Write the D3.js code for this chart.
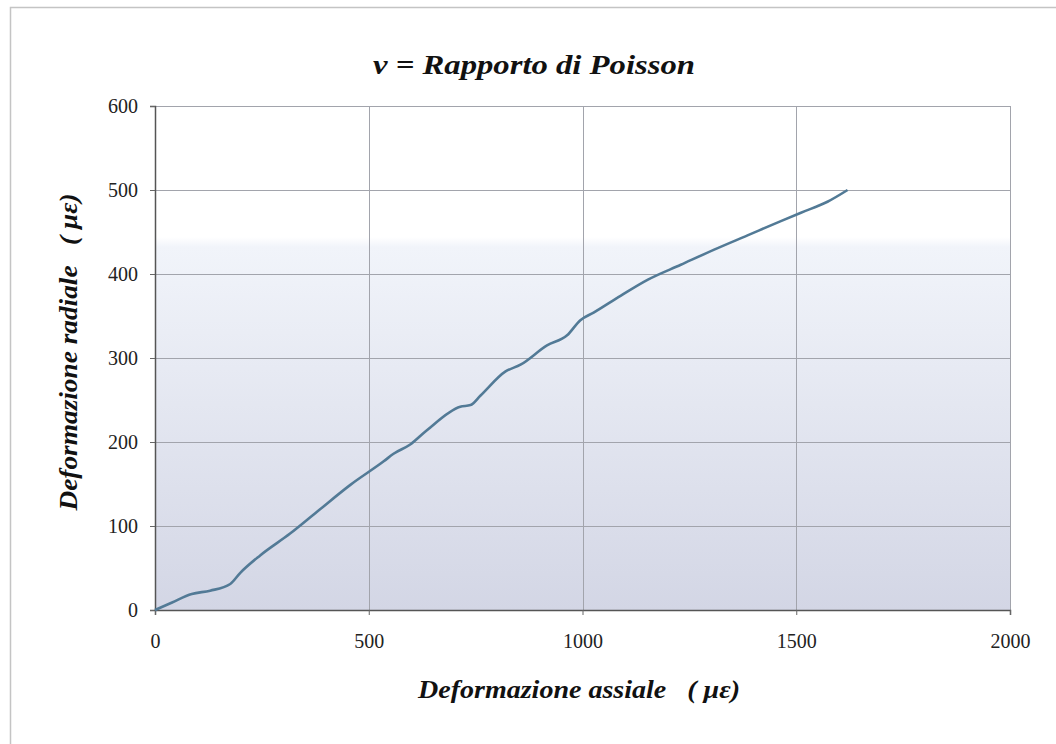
<!DOCTYPE html>
<html><head><meta charset="utf-8">
<script src="https://cdn.jsdelivr.net/npm/d3@7/dist/d3.min.js"></script>
<style>
html,body{margin:0;padding:0;background:#fff;}
svg{display:block;}
text{white-space:pre;}
</style></head>
<body>
<script>
const strainAxial = [0, 40, 86, 129, 176, 199, 246, 316, 379, 457, 535, 558, 597, 636, 714, 738, 761, 820, 855, 917, 964, 995, 1026, 1089, 1152, 1230, 1308, 1386, 1464, 1511, 1573, 1620];
const strainRadial = [0, 9, 19, 23, 31, 44, 65, 91, 117, 149, 177, 186, 197, 214, 242, 244, 255, 284, 292, 315, 327, 345, 354, 374, 393, 411, 429, 446, 463, 473, 486, 500];
const xTicks = [0, 500, 1000, 1500, 2000];
const yTicks = [0, 100, 200, 300, 400, 500, 600];
const titleText = "ν = Rapporto di Poisson";
const xTitle = "Deformazione assiale   ( με)";
const yTitle = "Deformazione radiale   ( με)";

const W = 1056, H = 744;
const L = 155, R = 1010, T = 106, B = 610;
const svg = d3.select("body").append("svg").attr("width", W).attr("height", H);

// outer chart frame
svg.append("rect").attr("x", 10.5).attr("y", 7.5).attr("width", 1100).attr("height", 800)
  .attr("fill", "none").attr("stroke", "#c4c4c4").attr("stroke-width", 1.5);

const x = d3.scaleLinear().domain([0, 2000]).range([L, R]);
const y = d3.scaleLinear().domain([0, 600]).range([B, T]);

const defs = svg.append("defs");
const grad = defs.append("linearGradient").attr("id", "bg").attr("x1", 0).attr("y1", 0).attr("x2", 0).attr("y2", 1);
grad.append("stop").attr("offset", "0").attr("stop-color", "#ffffff");
grad.append("stop").attr("offset", "0.26").attr("stop-color", "#ffffff");
grad.append("stop").attr("offset", "0.28").attr("stop-color", "#f1f4fa");
grad.append("stop").attr("offset", "1").attr("stop-color", "#d3d6e5");

svg.append("rect").attr("x", L).attr("y", T).attr("width", R - L).attr("height", B - T).attr("fill", "url(#bg)");

// gridlines
svg.append("g").selectAll("line").data(yTicks).join("line")
  .attr("x1", L).attr("x2", R).attr("y1", d => Math.round(y(d)) + 0.5).attr("y2", d => Math.round(y(d)) + 0.5)
  .attr("stroke", "#a2a4ac").attr("stroke-width", 1);
svg.append("g").selectAll("line").data(xTicks).join("line")
  .attr("y1", T).attr("y2", B).attr("x1", d => Math.round(x(d)) + 0.5).attr("x2", d => Math.round(x(d)) + 0.5)
  .attr("stroke", "#a2a4ac").attr("stroke-width", 1);

// axes
const yAxis = d3.axisLeft(y).tickValues(yTicks).tickSize(5).tickPadding(12).tickFormat(d3.format("d"));
const xAxis = d3.axisBottom(x).tickValues(xTicks).tickSize(5).tickPadding(19).tickFormat(d3.format("d"));
const gy = svg.append("g").attr("transform", `translate(${L},0)`).call(yAxis);
const gx = svg.append("g").attr("transform", `translate(0,${B})`).call(xAxis);
[gx, gy].forEach(g => {
  g.select(".domain").attr("stroke", "#555").attr("stroke-width", 1.5);
  g.selectAll(".tick line").attr("stroke", "#666");
  g.selectAll(".tick text").attr("fill", "#222")
    .style("font-family", "'Liberation Serif','DejaVu Serif',serif").style("font-size", "20px");
});

// line
const line = d3.line().x((d, i) => x(strainAxial[i])).y(d => y(d)).curve(d3.curveMonotoneX);
svg.append("path").datum(strainRadial).attr("d", line)
  .attr("fill", "none").attr("stroke", "#527a96").attr("stroke-width", 2.6).attr("stroke-linejoin", "round");

// titles
const serif = "'Liberation Serif','DejaVu Serif',serif";
svg.append("text").attr("x", 534).attr("y", 74).attr("text-anchor", "middle")
  .attr("textLength", 322).attr("lengthAdjust", "spacingAndGlyphs")
  .style("font-family", serif).style("font-weight", "bold").style("font-style", "italic").style("font-size", "28px")
  .attr("fill", "#111").text(titleText);
svg.append("text").attr("x", 579).attr("y", 698).attr("text-anchor", "middle")
  .attr("textLength", 322).attr("lengthAdjust", "spacingAndGlyphs")
  .style("font-family", serif).style("font-weight", "bold").style("font-style", "italic").style("font-size", "25px")
  .attr("fill", "#111").text(xTitle);
svg.append("text").attr("transform", "translate(77,352) rotate(-90)").attr("text-anchor", "middle")
  .attr("textLength", 317).attr("lengthAdjust", "spacingAndGlyphs")
  .style("font-family", serif).style("font-weight", "bold").style("font-style", "italic").style("font-size", "25px")
  .attr("fill", "#111").text(yTitle);
</script>
</body></html>
